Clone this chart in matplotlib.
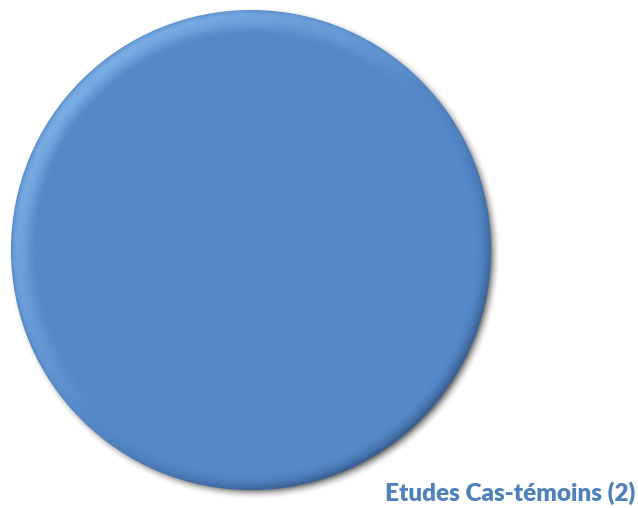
import numpy as np
import matplotlib.pyplot as plt

W, H, DPI = 638, 508, 100

labels = ["Etudes Cas-témoins (2)"]
values = [2]
colors = ["#5588C8"]

fig = plt.figure(figsize=(W / DPI, H / DPI), dpi=DPI)
cx, cy, rad = 251, 250, 240          # pixel centre / radius of the pie
L = 1.06                             # axes half-extent in pie-radius units
ax = fig.add_axes([(cx - rad * L) / W, (H - cy - rad * L) / H, 2 * rad * L / W, 2 * rad * L / H])
ax.axis("off")

wedges, _ = ax.pie(values, colors=colors, radius=1.0, startangle=90,
                   counterclock=False, wedgeprops=dict(linewidth=0))
for w in wedges:
    w.set_zorder(2)

# soft drop shadow behind the disc
n = 700
g = np.linspace(-L, L, n)
X, Y = np.meshgrid(g, g)
rs = np.hypot(X - 0.012, Y + 0.016)
sh = np.clip(1 - (rs - 0.985) / 0.045, 0, 1) ** 2 * 0.55
shadow = np.zeros((n, n, 4)); shadow[..., 3] = sh
ax.imshow(shadow, extent=(-L, L, -L, L), origin="lower", zorder=1, interpolation="bilinear")

# bevel: light rim top-left, dark rim bottom-right
r = np.hypot(X, Y) + 1e-9
dot = (-X + Y) / (r * np.sqrt(2))
band = np.clip((r - 0.89) / 0.08, 0, 1)
prof = np.sin(band * np.pi / 2) ** 2
light = np.clip(dot, 0, None) ** 0.8 * prof * np.clip((1.0 - r) / 0.02, 0, 1) ** 0.5
dark = np.clip(-dot, 0, None) * np.clip((r - 0.93) / 0.07, 0, 1) ** 2
ov = np.zeros((n, n, 4))
lo = light * 0.5
dk = dark * 0.45
ov[..., 3] = lo + dk
ov[..., 0] = np.where(dk > lo, 0.05, 0.62)
ov[..., 1] = np.where(dk > lo, 0.12, 0.82)
ov[..., 2] = np.where(dk > lo, 0.25, 1.0)
im = ax.imshow(ov, extent=(-L, L, -L, L), origin="lower", zorder=3, interpolation="bilinear")
im.set_clip_path(wedges[0])
ax.set_xlim(-L, L); ax.set_ylim(-L, L); ax.set_aspect("equal")

fig.text(1 - 3 / W, 3 / H, labels[0], ha="right", va="bottom", color="#4F81BD",
         fontsize=17.5, fontweight="heavy", family=["Lato", "DejaVu Sans"])

fig.savefig("out.png", dpi=DPI, facecolor="white")
